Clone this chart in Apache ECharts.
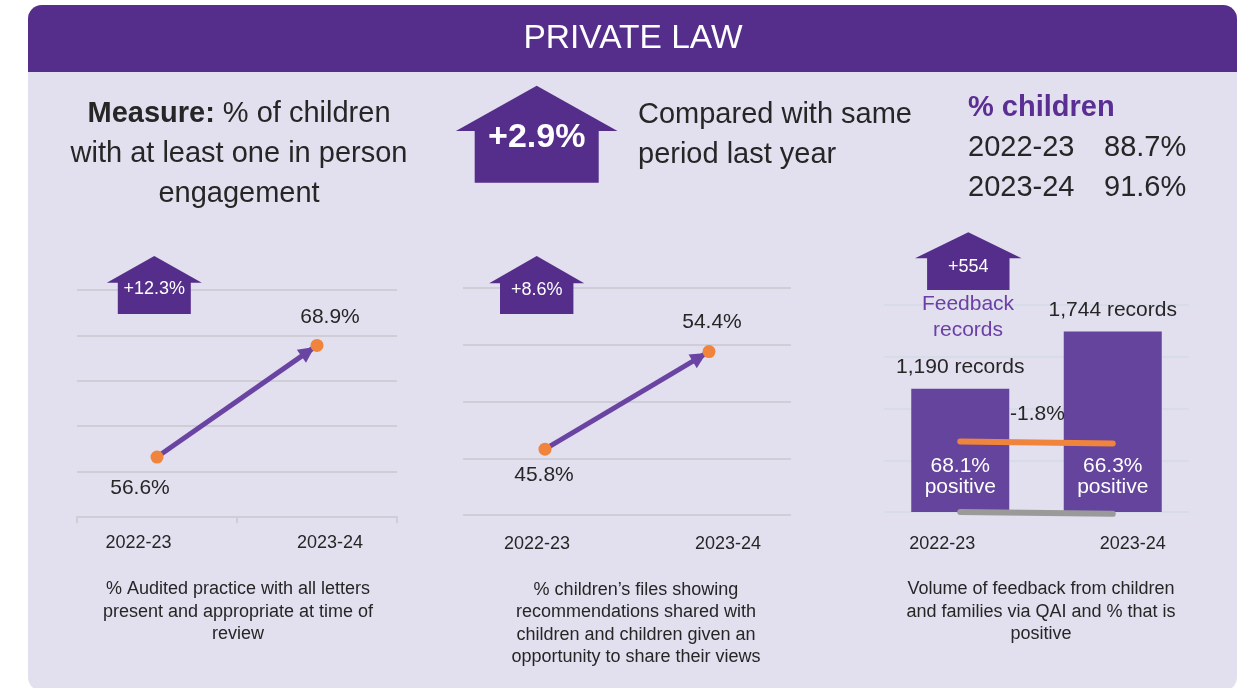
<!DOCTYPE html>
<html>
<head>
<meta charset="utf-8">
<title>Private Law</title>
<script src="https://cdn.jsdelivr.net/npm/echarts@6/dist/echarts.min.js"></script>
<style>
  html, body { margin: 0; padding: 0; background: #ffffff; }
  #chart { width: 1253px; height: 688px; }
</style>
</head>
<body>
<div id="chart"></div>
<script>
// ---- data ----
const periods = ['2022-23', '2023-24'];
const childrenPct = [88.7, 91.6];        // % children with at least one in-person engagement
const lettersPct = [56.6, 68.9];         // % audited practice with all letters present
const viewsPct = [45.8, 54.4];           // % files showing recommendations shared with children
const feedbackRecords = [1190, 1744];    // QAI feedback records
const positivePct = [68.1, 66.3];        // % of feedback that is positive
const captions = [
  '% Audited practice with all letters\npresent and appropriate at time of\nreview',
  '% children\u2019s files showing\nrecommendations shared with\nchildren and children given an\nopportunity to share their views',
  'Volume of feedback from children\nand families via QAI and % that is\npositive'
];

// ---- helpers ----
const F = "'Liberation Sans', Arial, Helvetica, sans-serif";
const DARK = '#262626';
const PURPLE = '#552d8b';
const LINE_PURPLE = '#6a44a2';
const BAR_PURPLE = '#64449d';
const ORANGE = '#f0843c';
const GRID_GREY = '#cfcdd5';

const signed = (d, digits, suffix) => (d > 0 ? '+' : '') + d.toFixed(digits) + suffix;
const positiveDelta = +(positivePct[1] - positivePct[0]).toFixed(1);
const positiveChange = [0, positiveDelta];   // change in % positive, relative to first period

function house(cx, peak, eave, halfEave, halfBody, bottom, label, textY, fontSize, bold) {
  return [
    {
      type: 'polygon', z: 10,
      shape: { points: [
        [cx, peak], [cx + halfEave, eave], [cx + halfBody, eave], [cx + halfBody, bottom],
        [cx - halfBody, bottom], [cx - halfBody, eave], [cx - halfEave, eave]
      ] },
      style: { fill: PURPLE }
    },
    {
      type: 'text', z: 11, x: cx, y: textY,
      style: { text: label, fill: '#ffffff', fontFamily: F, fontSize: fontSize,
               fontWeight: bold ? 'bold' : 'normal', align: 'center', verticalAlign: 'middle' }
    }
  ];
}

function txt(x, y, text, opts) {
  return {
    type: 'text', z: 10, x: x, y: y,
    style: Object.assign({ text: text, fill: DARK, fontFamily: F, fontSize: 18,
      align: 'center', verticalAlign: 'middle' }, opts || {})
  };
}

function catAxis(gridIndex, shiftLeft, shiftRight, margin, showLine) {
  return {
    type: 'category', gridIndex: gridIndex, data: periods,
    axisLine: { show: showLine, lineStyle: { color: GRID_GREY, width: 2 } },
    axisTick: { show: showLine, length: 6, lineStyle: { color: GRID_GREY, width: 2 } },
    axisLabel: {
      margin: margin,
      formatter: (v, i) => (i === 0 ? '{a|' + v + '}' : '{b|' + v + '}'),
      rich: {
        a: { fontFamily: F, fontSize: 18, color: DARK, padding: [0, shiftLeft * 2, 0, 0] },
        b: { fontFamily: F, fontSize: 18, color: DARK, padding: [0, 0, 0, shiftRight * 2] }
      }
    }
  };
}

function valAxis(gridIndex, min, max, interval, color, width) {
  return {
    type: 'value', gridIndex: gridIndex, min: min, max: max, interval: interval,
    axisLine: { show: false }, axisTick: { show: false }, axisLabel: { show: false },
    splitLine: { show: true, lineStyle: { color: color, width: width } }
  };
}

function pointLabel(pos, distance, dx) {
  return { show: true, position: pos, distance: distance, offset: [dx, 0],
           fontFamily: F, fontSize: 21, color: DARK, formatter: p => p.value.toFixed(1) + '%' };
}

// trend arrow between the two periods, drawn on the value scale;
// the head is pulled back along the line so it stops at the end marker
function arrowSeries(xIdx, yIdx, values) {
  return {
    type: 'line', xAxisIndex: xIdx, yAxisIndex: yIdx, data: values, silent: true,
    showSymbol: false, lineStyle: { opacity: 0 }, z: 2,
    markLine: {
      silent: true,
      symbol: ['none', 'triangle'],
      symbolSize: [16, 16],
      symbolOffset: [0, [0, 11]],
      label: { show: false },
      lineStyle: { color: LINE_PURPLE, width: 5, type: 'solid' },
      data: [[{ coord: [0, values[0]] }, { coord: [1, values[1]] }]]
    }
  };
}

const graphics = [
  // panel and header band
  { type: 'rect', z: -10, shape: { x: 28, y: 5, width: 1209, height: 686, r: 14 }, style: { fill: '#e2dfee' } },
  { type: 'rect', z: -9, shape: { x: 28, y: 5, width: 1209, height: 67, r: [14, 14, 0, 0] }, style: { fill: PURPLE } },
  txt(633, 39, 'PRIVATE LAW', { fill: '#ffffff', fontSize: 33.5 }),

  // headline measure
  txt(239, 154, '{b|Measure:} % of children\nwith at least one in person\nengagement', {
    fontSize: 29, lineHeight: 40,
    rich: { b: { fontFamily: F, fontSize: 29, lineHeight: 40, fontWeight: 'bold', fill: DARK } }
  }),
  ...house(536.7, 85.7, 131, 80.8, 62, 182.7,
           signed(childrenPct[1] - childrenPct[0], 1, '%'), 138, 34, true),
  txt(638, 135, 'Compared with same\nperiod last year', { align: 'left', fontSize: 29, lineHeight: 40 }),

  // % children summary
  txt(968, 108, '% children', { align: 'left', fontSize: 29, fontWeight: 'bold', fill: '#5b2e94' }),
  txt(968, 148, periods[0], { align: 'left', fontSize: 29 }),
  txt(1104, 148, childrenPct[0].toFixed(1) + '%', { align: 'left', fontSize: 29 }),
  txt(968, 188, periods[1], { align: 'left', fontSize: 29 }),
  txt(1104, 188, childrenPct[1].toFixed(1) + '%', { align: 'left', fontSize: 29 }),

  // change badges
  ...house(154.3, 256, 282.7, 47.5, 36.5, 314, signed(lettersPct[1] - lettersPct[0], 1, '%'), 289.5, 18, false),
  ...house(536.7, 256, 283.3, 47.5, 36.7, 314, signed(viewsPct[1] - viewsPct[0], 1, '%'), 290, 18, false),
  ...house(968.3, 232.3, 258.3, 53.3, 41.2, 290,
           '+' + (feedbackRecords[1] - feedbackRecords[0]).toLocaleString('en-GB'), 267, 18, false),
  txt(968, 317, 'Feedback\nrecords', { fontSize: 21, lineHeight: 26, fill: '#6b40a6' }),
  txt(1037.5, 414, signed(positiveDelta, 1, '%'), { fontSize: 21 }),

  // captions
  txt(238, 612, captions[0], { lineHeight: 22.5 }),
  txt(636, 623.5, captions[1], { lineHeight: 22.5 }),
  txt(1041, 612, captions[2], { lineHeight: 22.5 })
];

const option = {
  animation: false,
  backgroundColor: '#ffffff',
  textStyle: { fontFamily: F },
  graphic: graphics,
  grid: [
    { left: 77, top: 290, width: 320, height: 227 },
    { left: 463, top: 288, width: 328, height: 227 },
    { left: 884, top: 305, width: 305, height: 207 }
  ],
  xAxis: [
    catAxis(0, 18.5, 13, 17, true),
    catAxis(1, 8, 19, 20, false),
    catAxis(2, 18, 20, 23, false)
  ],
  yAxis: [
    valAxis(0, 50, 75, 5, GRID_GREY, 2),
    valAxis(1, 40, 60, 5, GRID_GREY, 2),
    valAxis(2, 0, 2000, 500, '#d3dbe7', 1.5),
    { type: 'value', gridIndex: 2, min: 0, max: 200, show: false, splitLine: { show: false } }
  ],
  series: [
    // letters panel
    arrowSeries(0, 0, lettersPct),
    {
      type: 'scatter', xAxisIndex: 0, yAxisIndex: 0, z: 5, silent: true,
      symbolSize: 13, itemStyle: { color: ORANGE, opacity: 1 },
      data: [
        { value: lettersPct[0], label: pointLabel('bottom', 14, -17) },
        { value: lettersPct[1], label: pointLabel('top', 11, 13) }
      ]
    },
    // views panel
    arrowSeries(1, 1, viewsPct),
    {
      type: 'scatter', xAxisIndex: 1, yAxisIndex: 1, z: 5, silent: true,
      symbolSize: 13, itemStyle: { color: ORANGE, opacity: 1 },
      data: [
        { value: viewsPct[0], label: pointLabel('bottom', 9, -1) },
        { value: viewsPct[1], label: pointLabel('top', 12, 3) }
      ]
    },
    // feedback panel
    {
      type: 'bar', xAxisIndex: 2, yAxisIndex: 2, data: feedbackRecords, barWidth: 98, barGap: '-100%',
      silent: true, z: 2,
      itemStyle: { color: BAR_PURPLE },
      label: {
        show: true, position: 'top', distance: 11, fontFamily: F, fontSize: 21, color: DARK,
        formatter: p => p.value.toLocaleString('en-GB') + ' records'
      }
    },
    {
      type: 'bar', xAxisIndex: 2, yAxisIndex: 2, data: feedbackRecords, barWidth: 98, barGap: '-100%',
      silent: true, z: 3,
      itemStyle: { color: 'rgba(0,0,0,0)' },
      label: {
        show: true, position: 'insideBottom', distance: 14, fontFamily: F, fontSize: 21,
        lineHeight: 21, color: '#ffffff', align: 'center',
        formatter: p => positivePct[p.dataIndex].toFixed(1) + '%\npositive'
      }
    },
    {
      type: 'line', xAxisIndex: 2, yAxisIndex: 3, data: positivePct, z: 4, silent: true,
      clip: false, symbol: 'none',
      lineStyle: { color: ORANGE, width: 6, cap: 'round' }
    },
    {
      type: 'line', xAxisIndex: 2, yAxisIndex: 3, data: positiveChange, z: 4, silent: true,
      clip: false, symbol: 'none',
      lineStyle: { color: '#9a9a9a', width: 6, cap: 'round' }
    }
  ]
};

const chart = echarts.init(document.getElementById('chart'), null, { renderer: 'canvas' });
chart.setOption(option);
</script>
</body>
</html>
